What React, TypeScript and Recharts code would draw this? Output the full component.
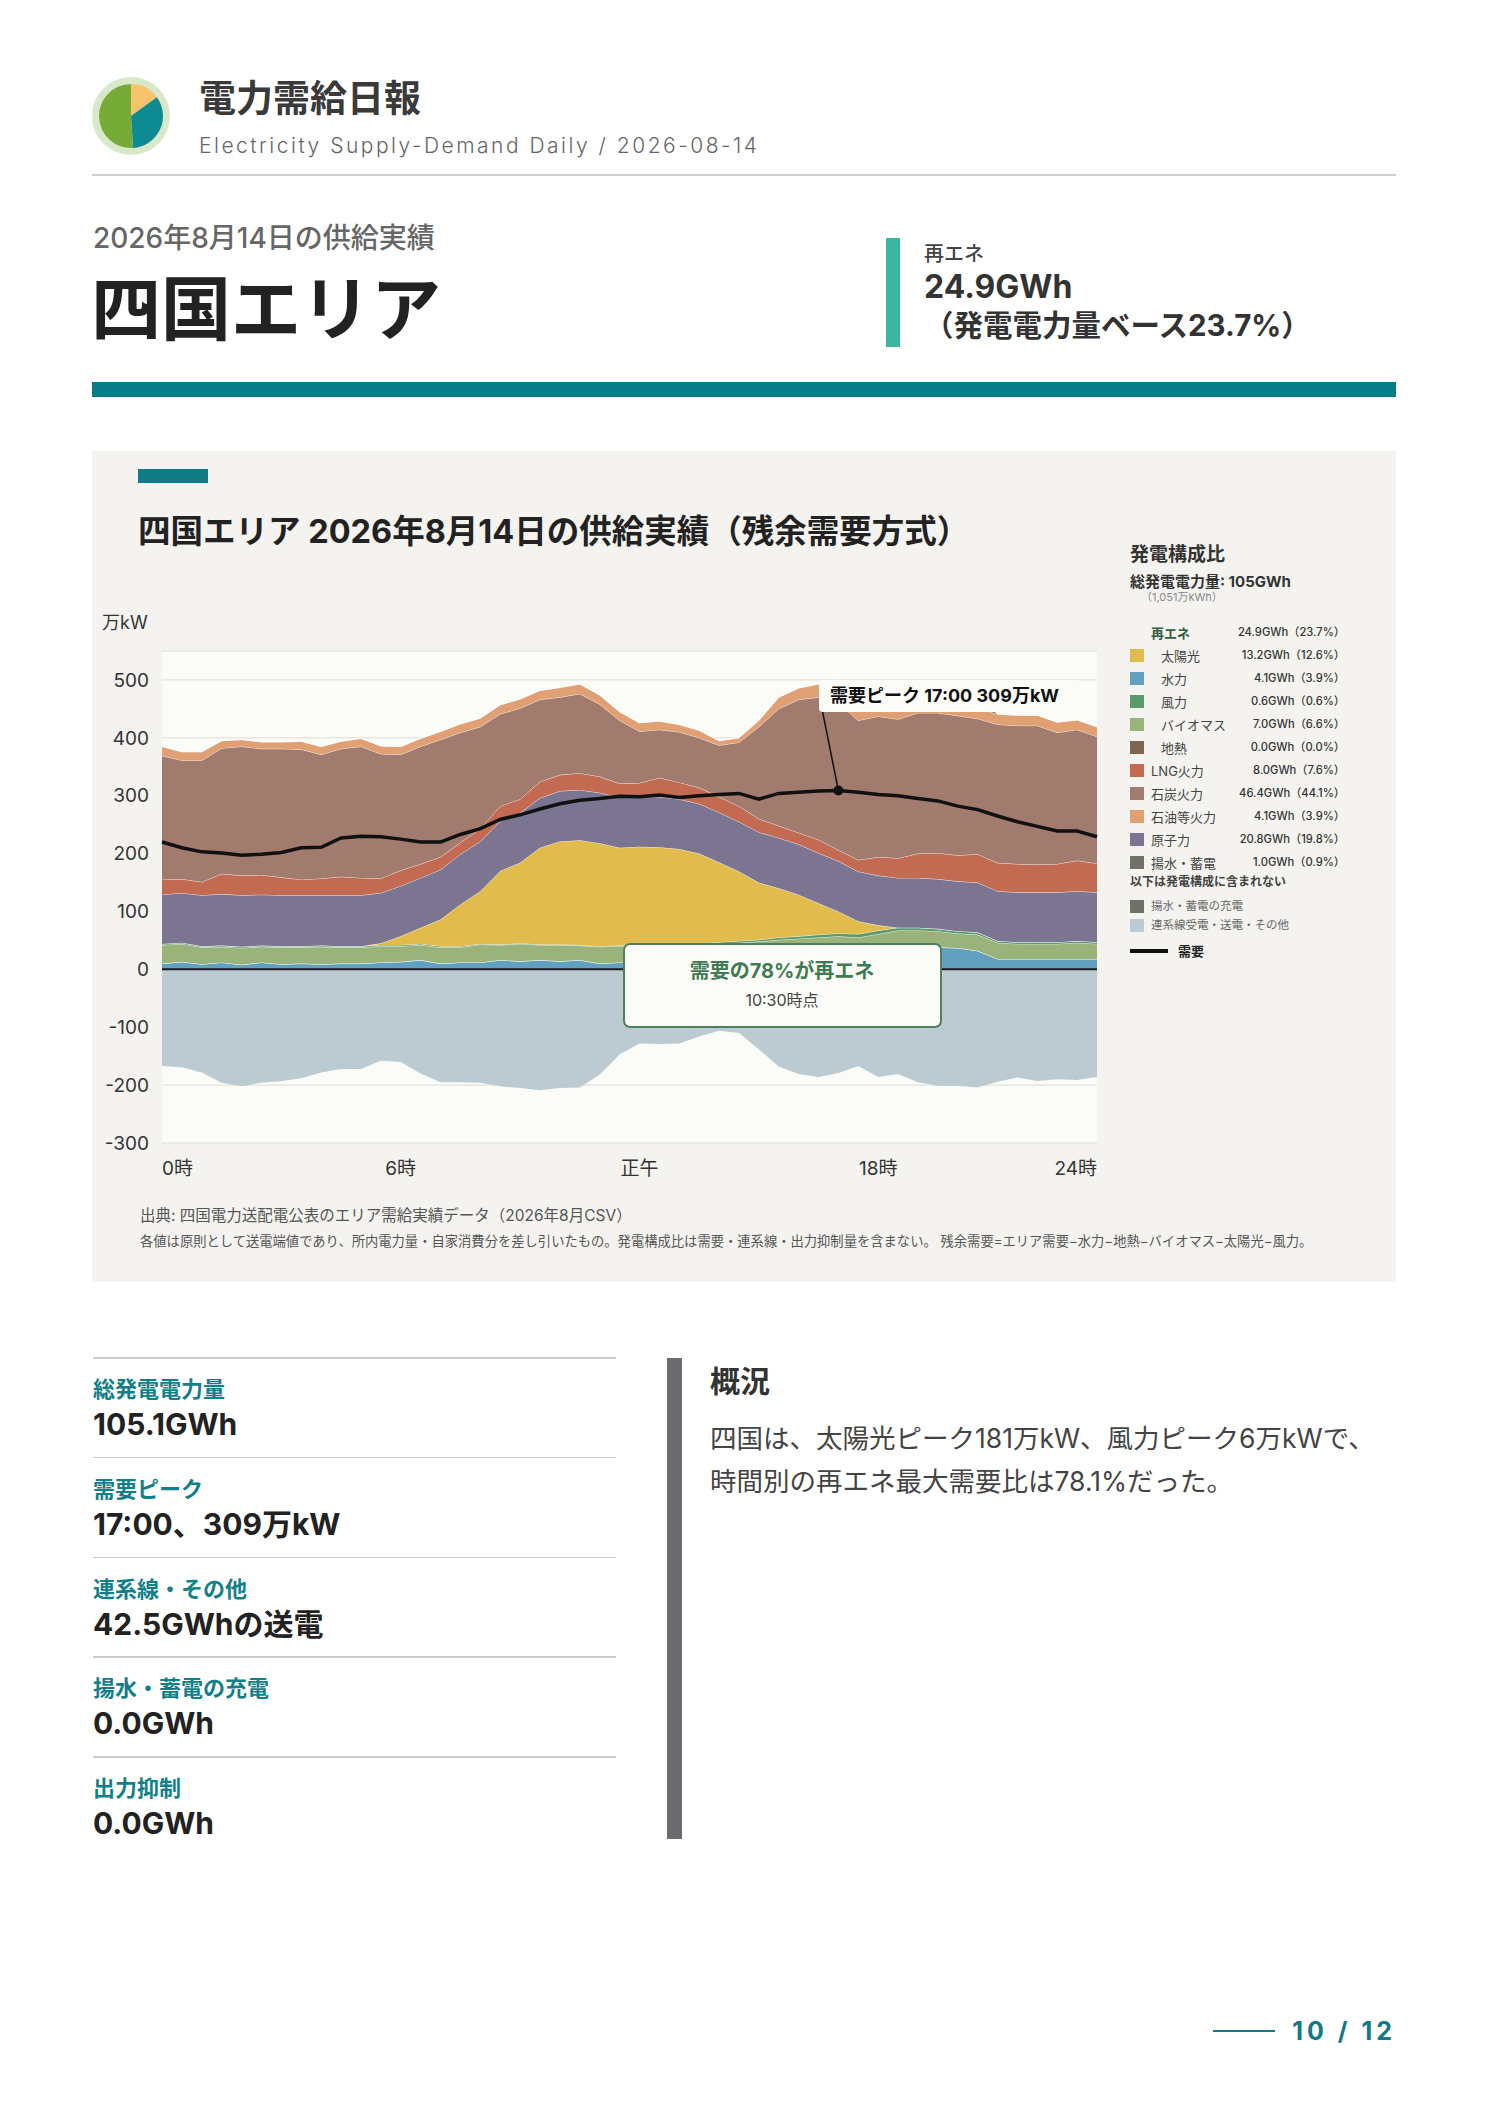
import React from "react";
import {
  ComposedChart,
  Area,
  Line,
  XAxis,
  YAxis,
  CartesianGrid,
  ReferenceLine,
  ReferenceDot,
  PieChart,
  Pie,
  Cell,
} from "recharts";

const FONT = "Inter, 'Noto Sans CJK JP', 'Noto Sans', sans-serif";
const PAGE_W = 1488;

// 30-minute slots, 0:00 - 23:30
const times = [
  "0:00", "0:30", "1:00", "1:30", "2:00", "2:30", "3:00", "3:30",
  "4:00", "4:30", "5:00", "5:30", "6:00", "6:30", "7:00", "7:30",
  "8:00", "8:30", "9:00", "9:30", "10:00", "10:30", "11:00", "11:30",
  "12:00", "12:30", "13:00", "13:30", "14:00", "14:30", "15:00", "15:30",
  "16:00", "16:30", "17:00", "17:30", "18:00", "18:30", "19:00", "19:30",
  "20:00", "20:30", "21:00", "21:30", "22:00", "22:30", "23:00", "23:30",
];

// 万kW
const hydro = [10, 13, 9, 12, 8, 12, 9, 10, 9, 10, 10, 12, 13, 16, 10, 12, 12, 16, 14, 16, 14, 16, 10, 12,
  12, 12, 13, 13, 16, 17, 19, 21, 23, 25, 28, 31, 33, 35, 37, 38, 37, 32, 18, 18, 18, 18, 18, 18];
const geothermal = [0, 0, 0, 0, 0, 0, 0, 0, 0, 0, 0, 0, 0, 0, 0, 0, 0, 0, 0, 0, 0, 0, 0, 0,
  0, 0, 0, 0, 0, 0, 0, 0, 0, 0, 0, 0, 0, 0, 0, 0, 0, 0, 0, 0, 0, 0, 0, 0];
const biomass = [32, 31, 29, 27, 29, 27, 29, 28, 30, 28, 28, 28, 27, 26, 28, 26, 31, 26, 30, 26, 28, 25, 29, 28,
  30, 30, 29, 29, 29, 29, 29, 30, 30, 30, 29, 24, 28, 32, 30, 28, 25, 28, 28, 26, 26, 26, 28, 26];
const wind = [2, 2, 2, 2, 2, 2, 2, 2, 2, 2, 2, 2, 2, 2, 2, 2, 1, 1, 1, 1, 1, 1, 1, 1,
  1, 1, 2, 2, 2, 3, 3, 4, 4, 5, 5, 6, 6, 5, 5, 4, 4, 4, 3, 3, 3, 3, 3, 3];
const solar = [0, 0, 0, 0, 0, 0, 0, 0, 0, 0, 0, 3, 15, 28, 46, 72, 91, 127, 139, 167, 178, 181, 178, 169,
  169, 168, 164, 156, 138, 120, 99, 85, 72, 54, 38, 22, 9, 0, 0, 0, 0, 0, 0, 0, 0, 0, 0, 0];
const nuclear = [85, 86, 88, 89, 89, 88, 88, 88, 87, 88, 88, 87, 87, 86, 86, 87, 86, 86, 86, 86, 87, 87, 87, 87,
  87, 87, 86, 86, 86, 86, 87, 87, 87, 87, 87, 86, 86, 86, 86, 86, 86, 86, 86, 86, 86, 86, 86, 86];
const lng = [26, 24, 23, 35, 34, 34, 31, 27, 29, 32, 30, 25, 27, 24, 22, 20, 22, 26, 24, 28, 28, 29, 28, 24,
  23, 33, 29, 28, 27, 27, 23, 21, 20, 23, 19, 20, 32, 34, 42, 45, 45, 49, 49, 49, 48, 49, 53, 50];
const coal = [214, 205, 210, 217, 223, 218, 222, 225, 214, 221, 227, 215, 200, 203, 203, 190, 176, 159, 157, 142, 134, 137, 125, 109,
  89, 83, 87, 86, 89, 110, 159, 202, 230, 246, 254, 241, 243, 240, 243, 242, 241, 234, 239, 239, 240, 227, 226, 219];
const oil = [16, 15, 15, 13, 12, 12, 12, 14, 14, 13, 14, 14, 14, 14, 14, 15, 15, 16, 16, 16, 17, 17, 16, 15,
  15, 15, 13, 13, 8, 8, 11, 20, 20, 23, 20, 20, 19, 19, 18, 18, 18, 18, 18, 18, 18, 18, 17, 17];
const pumped = [0, 0, 0, 0, 0, 0, 0, 0, 0, 0, 0, 0, 0, 0, 0, 0, 0, 0, 0, 0, 0, 0, 0, 0,
  0, 0, 0, 0, 0, 0, 0, 0, 0, 0, 20, 25, 30, 30, 30, 25, 20, 20, 0, 0, 0, 0, 0, 0];
const interconnect = [-167, -169, -178, -196, -202, -196, -193, -188, -178, -172, -172, -158, -160, -180, -195, -195, -196, -202, -205, -209, -205, -204, -182, -147,
  -128, -129, -128, -116, -106, -110, -138, -168, -181, -186, -179, -167, -186, -181, -195, -201, -201, -204, -194, -187, -193, -190, -191, -186];
const demand = [220, 210, 203, 201, 197, 199, 202, 210, 211, 227, 230, 229, 225, 220, 220, 233, 243, 259, 267, 277, 286, 292, 295, 299,
  298, 301, 297, 300, 302, 304, 294, 304, 306, 308, 309, 306, 302, 300, 295, 291, 282, 276, 265, 255, 247, 239, 239, 229];

const xTicks = [0, 12, 24, 36, 47];
const xTickLabels = ["0時", "6時", "正午", "18時", "24時"];
const yTicks = [-300, -200, -100, 0, 100, 200, 300, 400, 500];

// legend (発電構成比)
const mixNames = ["太陽光", "水力", "風力", "バイオマス", "地熱", "LNG火力", "石炭火力", "石油等火力", "原子力", "揚水・蓄電"];
const mixGWh = [13.2, 4.1, 0.6, 7.0, 0.0, 8.0, 46.4, 4.1, 20.8, 1.0];
const mixPct = [12.6, 3.9, 0.6, 6.6, 0.0, 7.6, 44.1, 3.9, 19.8, 0.9];
const mixColors = ["#e2bb4d", "#62a0c0", "#5a9a6c", "#9ab37b", "#7f6652", "#c36a52", "#a17b6e", "#e1a073", "#7b7591", "#707268"];
const renewGWh = 24.9;
const renewPct = 23.7;
const extraNames = ["揚水・蓄電の充電", "連系線受電・送電・その他"];
const extraColors = ["#707268", "#bccbd2"];

// stats
const statLabels = ["総発電電力量", "需要ピーク", "連系線・その他", "揚水・蓄電の充電", "出力抑制"];
const statValues = ["105.1GWh", "17:00、309万kW", "42.5GWhの送電", "0.0GWh", "0.0GWh"];
const summaryLines = ["四国は、太陽光ピーク181万kW、風力ピーク6万kWで、", "時間別の再エネ最大需要比は78.1%だった。"];

const logoSlices = [15, 34, 51];
const logoColors = ["#f7c46c", "#0e8a92", "#77ab37"];

const rows = times.map((t, i) => ({
  idx: i,
  time: t,
  hydro: hydro[i],
  geothermal: geothermal[i],
  biomass: biomass[i],
  wind: wind[i],
  solar: solar[i],
  nuclear: nuclear[i],
  lng: lng[i],
  coal: coal[i],
  oil: oil[i],
  pumped: pumped[i],
  interconnect: interconnect[i],
  demand: demand[i],
}));

const stackSeries = [
  { key: "hydro", color: "#62a0c0" },
  { key: "geothermal", color: "#7f6652" },
  { key: "biomass", color: "#9ab37b" },
  { key: "wind", color: "#5a9a6c" },
  { key: "solar", color: "#e2bb4d" },
  { key: "nuclear", color: "#7b7591" },
  { key: "lng", color: "#c36a52" },
  { key: "coal", color: "#a17b6e" },
  { key: "oil", color: "#e1a073" },
  { key: "pumped", color: "#707268" },
];

function Txt({ x, y, size, color = "#333", weight = 400, align = "left", children, style }: any) {
  const pos: any = align === "right" ? { right: PAGE_W - x } : { left: x };
  return (
    <div
      style={{
        position: "absolute",
        ...pos,
        top: y - size / 2,
        height: size,
        fontSize: size,
        lineHeight: `${size}px`,
        color,
        fontWeight: weight,
        whiteSpace: "nowrap",
        ...style,
      }}
    >
      {children}
    </div>
  );
}

function Box({ x, y, w, h, bg, style }: any) {
  return <div style={{ position: "absolute", left: x, top: y, width: w, height: h, background: bg, ...style }} />;
}

function XTick(props: any) {
  const { x, y, payload } = props;
  const i = xTicks.indexOf(payload.value);
  const anchor = i === 0 ? "start" : i === xTicks.length - 1 ? "end" : "middle";
  return (
    <text x={x} y={y + 32} textAnchor={anchor} fontSize={19} fill="#333">
      {xTickLabels[i]}
    </text>
  );
}

function SupplyChart() {
  return (
    <ComposedChart
      width={1020}
      height={600}
      data={rows}
      margin={{ top: 31, right: 15, bottom: 37, left: 10 }}
    >
      <CartesianGrid vertical={false} stroke="#dfddd6" fill="#fbfbf7" />
      <XAxis
        type="number"
        dataKey="idx"
        domain={[0, 47]}
        ticks={xTicks}
        tick={<XTick />}
        tickLine={false}
        axisLine={false}
        tickSize={0}
        tickMargin={0}
        height={40}
      />
      <YAxis
        type="number"
        domain={[-300, 550]}
        ticks={yTicks}
        allowDataOverflow
        tickLine={false}
        axisLine={false}
        tickSize={0}
        tickMargin={13}
        width={60}
        tick={{ fontSize: 19, fill: "#333" }}
      />
      <Area
        type="linear"
        dataKey="interconnect"
        stackId="neg"
        fill="#bccbd2"
        fillOpacity={1}
        stroke="none"
        isAnimationActive={false}
      />
      {stackSeries.map((s) => (
        <Area
          key={s.key}
          type="linear"
          dataKey={s.key}
          stackId="pos"
          fill={s.color}
          fillOpacity={1}
          stroke="#ffffff"
          strokeOpacity={0.75}
          strokeWidth={1}
          isAnimationActive={false}
        />
      ))}
      <ReferenceLine y={0} stroke="#1b1b1b" strokeWidth={2} />
      <Line
        type="linear"
        dataKey="demand"
        stroke="#111"
        strokeWidth={3.5}
        dot={false}
        isAnimationActive={false}
      />
      <ReferenceLine
        segment={[
          { x: 33.2, y: 446 },
          { x: 34, y: 309 },
        ]}
        stroke="#111"
        strokeWidth={1.5}
      />
      <ReferenceDot x={34} y={309} r={5} fill="#111" stroke="none" />
    </ComposedChart>
  );
}

function Legend() {
  const x0 = 1130;
  const rowY = (i: number) => 633 + i * 23;
  const valX = 1345;
  return (
    <>
      <Txt x={x0} y={554} size={19} weight={700} color="#333">発電構成比</Txt>
      <Txt x={x0} y={581} size={15} weight={700} color="#333">総発電電力量: 105GWh</Txt>
      <Txt x={1141} y={597} size={11} color="#888">（1,051万kWh）</Txt>
      <Txt x={1151} y={rowY(0)} size={13} weight={700} color="#2f5d3f">再エネ</Txt>
      <Txt x={valX} y={rowY(0)} size={11.2} weight={500} color="#333" align="right">
        {renewGWh.toFixed(1)}GWh（{renewPct.toFixed(1)}%）
      </Txt>
      {mixNames.map((n, i) => (
        <React.Fragment key={n}>
          <Box x={x0} y={rowY(i + 1) - 7} w={14} h={13} bg={mixColors[i]} />
          <Txt x={i < 5 ? 1161 : 1151} y={rowY(i + 1)} size={13} color="#444">{n}</Txt>
          <Txt x={valX} y={rowY(i + 1)} size={11.2} weight={500} color="#333" align="right">
            {mixGWh[i].toFixed(1)}GWh（{mixPct[i].toFixed(1)}%）
          </Txt>
        </React.Fragment>
      ))}
      <Txt x={x0} y={882} size={12} weight={700} color="#444">以下は発電構成に含まれない</Txt>
      {extraNames.map((n, i) => (
        <React.Fragment key={n}>
          <Box x={x0} y={(i === 0 ? 907 : 926) - 7} w={14} h={13} bg={extraColors[i]} />
          <Txt x={1151} y={i === 0 ? 907 : 926} size={11.5} color="#666">{n}</Txt>
        </React.Fragment>
      ))}
      <Box x={x0} y={949} w={38} h={3.5} bg="#111" />
      <Txt x={1178} y={951} size={13} weight={700} color="#222">需要</Txt>
    </>
  );
}

export default function App() {
  return (
    <div
      style={{
        position: "relative",
        width: PAGE_W,
        height: 2105,
        background: "#ffffff",
        fontFamily: FONT,
        overflow: "hidden",
      }}
    >
      <style>{"body{margin:0}"}</style>

      {/* header */}
      <div style={{ position: "absolute", left: 92, top: 77, width: 78, height: 78, borderRadius: "50%", background: "#d8e9c9" }} />
      <div style={{ position: "absolute", left: 91, top: 76, width: 80, height: 80 }}>
        <PieChart width={80} height={80} margin={{ top: 0, right: 0, bottom: 0, left: 0 }}>
          <Pie
            data={logoSlices.map((v, i) => ({ name: `s${i}`, value: v }))}
            dataKey="value"
            cx={40}
            cy={40}
            outerRadius={32}
            startAngle={90}
            endAngle={-270}
            stroke="none"
            isAnimationActive={false}
          >
            {logoSlices.map((_, i) => (
              <Cell key={i} fill={logoColors[i]} />
            ))}
          </Pie>
        </PieChart>
      </div>
      <Txt x={199} y={98} size={37} weight={700} color="#3a3a3a">電力需給日報</Txt>
      <Txt x={199} y={145} size={21} weight={300} color="#666" style={{ letterSpacing: 2.5 }}>
        Electricity Supply-Demand Daily / 2026-08-14
      </Txt>
      <Box x={92} y={174} w={1304} h={2} bg="#cfcfcf" />

      <Txt x={93} y={238} size={28} weight={500} color="#666">2026年8月14日の供給実績</Txt>
      <Txt x={91} y={310} size={70} weight={700} color="#222">四国エリア</Txt>
      <Box x={886} y={238} w={14} h={109} bg="#3db5a3" />
      <Txt x={924} y={254} size={20} weight={500} color="#444">再エネ</Txt>
      <Txt x={924} y={287} size={32} weight={700} color="#333">24.9GWh</Txt>
      <Txt x={924} y={326} size={29.5} weight={700} color="#333">（発電電力量ベース23.7%）</Txt>
      <Box x={92} y={382} w={1304} h={15} bg="#067d86" />

      {/* chart panel */}
      <Box x={92} y={451} w={1304} h={831} bg="#f4f3ef" />
      <Box x={138} y={469} w={70} h={14} bg="#127c84" />
      <Txt x={138} y={532} size={32.5} weight={700} color="#222">
        四国エリア 2026年8月14日の供給実績（残余需要方式）
      </Txt>
      <Txt x={102} y={623} size={18} color="#333">万kW</Txt>
      <div style={{ position: "absolute", left: 92, top: 620 }}>
        <SupplyChart />
      </div>
      <div
        style={{
          position: "absolute",
          left: 819,
          top: 680,
          width: 262,
          height: 32,
          background: "#fbfbf7",
          borderRadius: 4,
        }}
      />
      <Txt x={830} y={696} size={18} weight={700} color="#111">需要ピーク 17:00 309万kW</Txt>
      <div
        style={{
          position: "absolute",
          left: 623,
          top: 943,
          width: 315,
          height: 81,
          background: "#fbfbf7",
          border: "2px solid #4f7f5c",
          borderRadius: 7,
        }}
      />
      <Txt x={782} y={971} size={20} weight={700} color="#3e7a52" style={{ transform: "translateX(-50%)" }}>
        需要の78%が再エネ
      </Txt>
      <Txt x={782} y={1000} size={16} color="#444" style={{ transform: "translateX(-50%)" }}>
        10:30時点
      </Txt>
      <Legend />
      <Txt x={140} y={1216} size={15.5} color="#555">
        出典: 四国電力送配電公表のエリア需給実績データ（2026年8月CSV）
      </Txt>
      <Txt x={140} y={1242} size={13.3} color="#555">
        各値は原則として送電端値であり、所内電力量・自家消費分を差し引いたもの。発電構成比は需要・連系線・出力抑制量を含まない。 残余需要=エリア需要−水力−地熱−バイオマス−太陽光−風力。
      </Txt>

      {/* stats */}
      {statLabels.map((l, i) => (
        <React.Fragment key={l}>
          <Box x={93} y={1357 + i * 99.8} w={523} h={1.5} bg="#cccccc" />
          <Txt x={93} y={1389 + i * 99.8} size={22} weight={700} color="#127f89">{l}</Txt>
          <Txt x={93} y={1424 + i * 99.8} size={30} weight={700} color="#222">{statValues[i]}</Txt>
        </React.Fragment>
      ))}
      <Box x={667} y={1358} w={15} h={481} bg="#6b6b70" />
      <Txt x={710} y={1381} size={30} weight={700} color="#333">概況</Txt>
      {summaryLines.map((s, i) => (
        <Txt key={i} x={710} y={1438 + i * 43} size={26.5} color="#444">{s}</Txt>
      ))}

      {/* footer */}
      <Box x={1213} y={2030} w={62} h={2} bg="#117a86" />
      <Txt x={1396} y={2031} size={25} weight={700} color="#117a86" align="right" style={{ letterSpacing: 4 }}>
        10 / 12
      </Txt>
    </div>
  );
}
